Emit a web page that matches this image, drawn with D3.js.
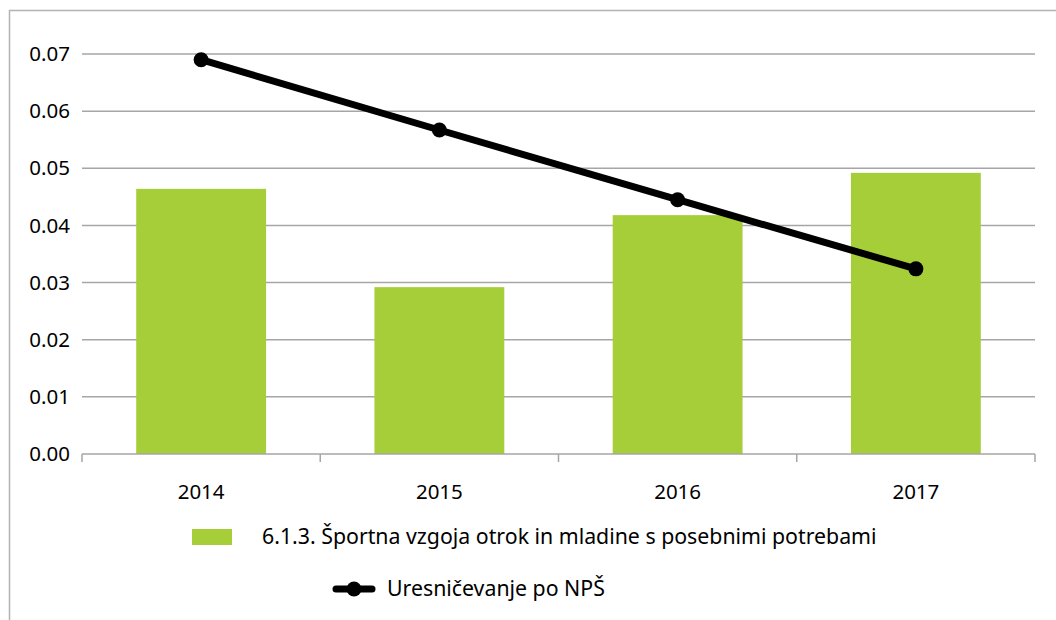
<!DOCTYPE html>
<html><head><meta charset="utf-8">
<script src="https://cdn.jsdelivr.net/npm/d3@7"></script>
<style>body{margin:0;background:#fff;} svg{display:block;}</style>
</head><body>
<svg id="c" width="1056" height="620"></svg>
<script>
const categories = ["2014","2015","2016","2017"];
const barValues = [0.0464, 0.0292, 0.0418, 0.0492];
const lineValues = [0.0690, 0.0567, 0.0445, 0.0324];
const yTicks = [0, 0.01, 0.02, 0.03, 0.04, 0.05, 0.06, 0.07];
const barName = "6.1.3. Športna vzgoja otrok in mladine s posebnimi potrebami";
const lineName = "Uresničevanje po NPŠ";

(function(){
const svg = d3.select("#c");
const font = "'Noto Sans', sans-serif";
const pLeft = 82, pRight = 1035, pTop = 54, pBottom = 454;

// outer frame
svg.append("rect").attr("x",9.5).attr("y",10.5).attr("width",1100).attr("height",700)
  .attr("fill","none").attr("stroke","#b3b3b3").attr("stroke-width",1.5);

const x = d3.scaleBand().domain(categories).range([pLeft,pRight]).paddingInner(0.455).paddingOuter(0.2275);
const xb = d3.scaleBand().domain(categories).range([pLeft,pRight]);
const y = d3.scaleLinear().domain([0,0.07]).range([pBottom,pTop]);

// gridlines
svg.append("g").selectAll("line").data(yTicks.filter(d=>d>0)).join("line")
  .attr("x1",pLeft).attr("x2",pRight).attr("y1",d=>y(d)).attr("y2",d=>y(d))
  .attr("stroke","#a6a6a6").attr("stroke-width",1.5);

// y labels
svg.append("g").selectAll("text").data(yTicks).join("text")
  .attr("x",70).attr("y",d=>y(d)).attr("dy","0.35em").attr("text-anchor","end")
  .attr("font-family",font).attr("font-size",20.5).attr("fill","#000")
  .text(d=>d3.format(".2f")(d));

// bars
svg.append("g").selectAll("rect").data(categories).join("rect")
  .attr("x",d=>x(d)).attr("width",x.bandwidth())
  .attr("y",(d,i)=>y(barValues[i])).attr("height",(d,i)=>pBottom-y(barValues[i]))
  .attr("fill","#a6ce39");

// x axis
svg.append("line").attr("x1",pLeft).attr("x2",pRight).attr("y1",pBottom).attr("y2",pBottom)
  .attr("stroke","#a6a6a6").attr("stroke-width",1.5);
const tickX = categories.map(c=>xb(c)).concat([pRight]);
svg.append("g").selectAll("line").data(tickX).join("line")
  .attr("x1",d=>d).attr("x2",d=>d).attr("y1",pBottom).attr("y2",pBottom+8)
  .attr("stroke","#a6a6a6").attr("stroke-width",1.5);
svg.append("g").selectAll("text").data(categories).join("text")
  .attr("x",d=>xb(d)+xb.bandwidth()/2).attr("y",492).attr("dy","0.35em").attr("text-anchor","middle")
  .attr("font-family",font).attr("font-size",20.5).attr("fill","#000").text(d=>d);

// line
const pts = categories.map((c,i)=>[xb(c)+xb.bandwidth()/2, y(lineValues[i])]);
svg.append("path").attr("d",d3.line()(pts)).attr("fill","none").attr("stroke","#000")
  .attr("stroke-width",7).attr("stroke-linejoin","round");
svg.append("g").selectAll("circle").data(pts).join("circle")
  .attr("cx",d=>d[0]).attr("cy",d=>d[1]).attr("r",7.5).attr("fill","#000");

// legend
svg.append("rect").attr("x",192).attr("y",529).attr("width",40).attr("height",16).attr("fill","#a6ce39");
svg.append("text").attr("x",262).attr("y",537).attr("dy","0.35em").attr("font-family",font)
  .attr("font-size",21.3).attr("fill","#000").text(barName);
svg.append("line").attr("x1",336).attr("x2",372).attr("y1",589).attr("y2",589)
  .attr("stroke","#000").attr("stroke-width",7).attr("stroke-linecap","round");
svg.append("circle").attr("cx",354).attr("cy",589).attr("r",7.5).attr("fill","#000");
svg.append("text").attr("x",387).attr("y",589).attr("dy","0.35em").attr("font-family",font)
  .attr("font-size",21.3).attr("fill","#000").text(lineName);
})();
</script>
</body></html>
